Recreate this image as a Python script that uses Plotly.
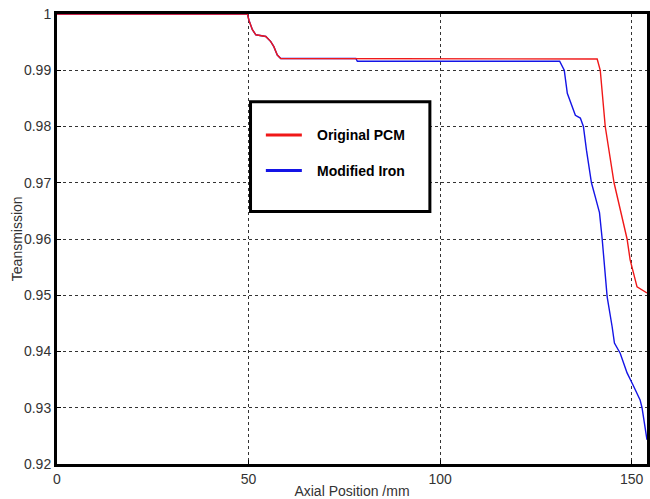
import plotly.graph_objects as go

# Axial position (mm) and transmission for the two cases
pcm_x = [0, 49.7, 50.1, 51.0, 51.9, 54.5, 55.8, 56.6, 57.5, 58.4, 141.0, 141.8,
         143.1, 145.4, 148.8, 149.6, 151.4, 152.7, 154.0]
pcm_y = [1.0, 1.0, 0.9989, 0.9972, 0.9963, 0.9960, 0.9951, 0.9942, 0.9927, 0.9921,
         0.9920, 0.9900, 0.9800, 0.9700, 0.9600, 0.9563, 0.9515, 0.9509, 0.9504]

iron_x = [0, 49.7, 50.1, 51.0, 51.9, 54.5, 55.8, 56.6, 57.5, 58.4, 78.0, 78.4,
          131.2, 132.4, 133.2, 135.3, 136.6, 137.4, 138.2, 139.5, 140.5, 141.6,
          142.3, 143.6, 144.9, 145.5, 147.0, 148.8, 150.1, 152.2, 152.7, 154.0]
iron_y = [1.0, 1.0, 0.9989, 0.9972, 0.9963, 0.9960, 0.9951, 0.9942, 0.9927, 0.9921,
          0.9921, 0.9916, 0.9916, 0.9900, 0.9859, 0.9820, 0.9815, 0.9800, 0.9758,
          0.9700, 0.9675, 0.9647, 0.9600, 0.9497, 0.9444, 0.9415, 0.9397, 0.9362,
          0.9344, 0.9314, 0.9300, 0.9243]

series_names = ["Original PCM", "Modified Iron"]
series_colors = ["#f01818", "#1414e6"]

x_ticks = [0, 50, 100, 150]
y_ticks = [0.92, 0.93, 0.94, 0.95, 0.96, 0.97, 0.98, 0.99, 1.0]
y_tick_text = ["0.92", "0.93", "0.94", "0.95", "0.96", "0.97", "0.98", "0.99", "1"]

fig = go.Figure()
fig.add_trace(go.Scatter(x=iron_x, y=iron_y, mode="lines", name=series_names[1],
                         line=dict(color=series_colors[1], width=1.4)))
fig.add_trace(go.Scatter(x=pcm_x, y=pcm_y, mode="lines", name=series_names[0],
                         line=dict(color=series_colors[0], width=1.4)))

tick_font = dict(family="Liberation Sans Narrow, Arial Narrow, Liberation Sans, sans-serif",
                 size=14, color="#333333")
title_font = dict(family="Liberation Sans, Arial, sans-serif", size=14, color="#333333")

fig.update_xaxes(range=[0, 154], tickvals=x_ticks, ticks="inside", ticklen=4,
                 tickcolor="black", showline=True, linecolor="black", linewidth=3,
                 mirror=True, showgrid=True, gridcolor="#333333", griddash="dot",
                 gridwidth=1, zeroline=False, tickfont=tick_font,
                 title=dict(text="Axial Position /mm", font=title_font, standoff=2))
fig.update_yaxes(range=[0.92, 1.0], tickvals=y_ticks, ticktext=y_tick_text,
                 ticks="inside", ticklen=4, tickcolor="black", showline=True,
                 linecolor="black", linewidth=3, mirror=True, showgrid=True,
                 gridcolor="#333333", griddash="dot", gridwidth=1, zeroline=False,
                 tickfont=tick_font)

annotations = [dict(xref="paper", yref="paper", x=-0.0675, y=0.5, text="Teansmission",
                    textangle=-90, showarrow=False, xanchor="center", yanchor="middle",
                    font=title_font)]

# Boxed legend inside the axes
box = dict(x0=0.328, x1=0.632, y0=0.561, y1=0.805)
shapes = [dict(type="rect", xref="paper", yref="paper", **box,
               fillcolor="white", line=dict(color="black", width=3), layer="above")]
for name, color, yy in zip(series_names, series_colors, [0.731, 0.652]):
    shapes.append(dict(type="line", xref="paper", yref="paper", x0=0.354, x1=0.415,
                       y0=yy, y1=yy, line=dict(color=color, width=3), layer="above"))
    annotations.append(dict(xref="paper", yref="paper", x=0.437, y=yy, text=name,
                            showarrow=False, xanchor="left", yanchor="middle",
                            font=dict(family="Liberation Sans, Arial, sans-serif",
                                      size=14, color="black", weight="bold")))

fig.update_layout(width=650, height=499, margin=dict(l=57, r=0, t=14, b=35),
                  paper_bgcolor="white", plot_bgcolor="white", showlegend=False,
                  shapes=shapes, annotations=annotations)

fig.write_html("out.html")
